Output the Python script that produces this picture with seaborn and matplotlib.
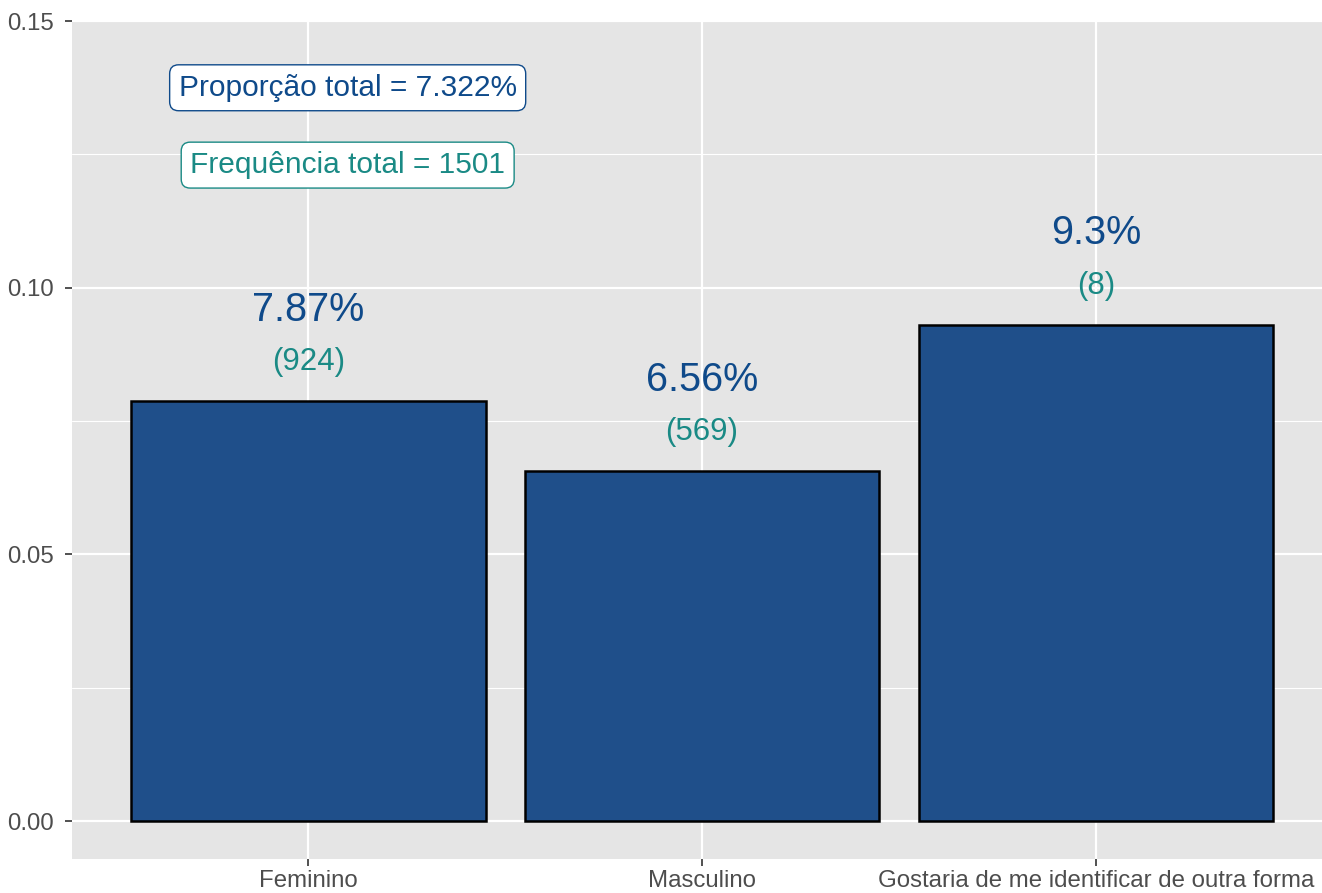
import matplotlib
matplotlib.use("Agg")
import matplotlib.pyplot as plt
import seaborn as sns
import pandas as pd
from matplotlib.ticker import MultipleLocator

categories = ["Feminino", "Masculino", "Gostaria de me identificar de outra forma"]
proportions = [0.0787, 0.0656, 0.093]
pct_labels = ["7.87%", "6.56%", "9.3%"]
counts = [924, 569, 8]
total_prop_text = "Proporção total = 7.322%"
total_freq_text = "Frequência total = 1501"
yticks = [0.00, 0.05, 0.10, 0.15]

BAR = "#1F4F8A"
BLUE = "#0F4A8A"
TEAL = "#1A8A85"
FONT = "Liberation Sans"

sns.set_theme(style="darkgrid")
plt.rcParams["font.family"] = [FONT, "DejaVu Sans"]

df = pd.DataFrame({"cat": categories, "prop": proportions})

fig = plt.figure(figsize=(13.22, 8.93), dpi=100)
ax = fig.add_axes([72 / 1322, 34 / 893, 1250 / 1322, 839.5 / 893])
ax.set_facecolor("#E5E5E5")

sns.barplot(data=df, x="cat", y="prop", color=BAR, edgecolor="black",
            linewidth=1.8, width=0.9, saturation=1, ax=ax, zorder=3)

for i, (p, lab, c) in enumerate(zip(proportions, pct_labels, counts)):
    ax.text(i, p + 0.0172, lab, ha="center", va="center", color=BLUE,
            fontsize=28.5, zorder=4)
    ax.text(i, p + 0.0073, f"({c})", ha="center", va="center", color=TEAL,
            fontsize=22.5, zorder=4)

ax.text(0.1, 0.1375, total_prop_text, ha="center", va="center", color=BLUE,
        fontsize=21.5, zorder=5,
        bbox=dict(boxstyle="round,pad=0.3,rounding_size=0.3", facecolor="white",
                  edgecolor=BLUE, linewidth=1.0))
ax.text(0.1, 0.123, total_freq_text, ha="center", va="center", color=TEAL,
        fontsize=21.5, zorder=5,
        bbox=dict(boxstyle="round,pad=0.3,rounding_size=0.3", facecolor="white",
                  edgecolor=TEAL, linewidth=1.0))

ax.set_xlim(-0.6, 2.574)
ax.set_ylim(-0.0071, 0.1503)
ax.set_yticks(yticks)
ax.set_yticklabels([f"{t:.2f}" for t in yticks])
ax.yaxis.set_minor_locator(MultipleLocator(0.025))
ax.grid(which="major", color="white", linewidth=1.6, zorder=0)
ax.grid(which="minor", axis="y", color="white", linewidth=0.8, zorder=0)
ax.set_axisbelow(True)
ax.set_xlabel("")
ax.set_ylabel("")
for s in ax.spines.values():
    s.set_visible(False)
ax.tick_params(axis="both", which="major", bottom=True, left=True, length=5,
               width=1.2, color="#333333", labelcolor="#4D4D4D",
               labelsize=17.3)
ax.tick_params(axis="y", which="major", pad=8)
ax.tick_params(axis="x", which="major", pad=3)
ax.tick_params(axis="both", which="minor", length=0)

fig.savefig("out.png", dpi=100)
